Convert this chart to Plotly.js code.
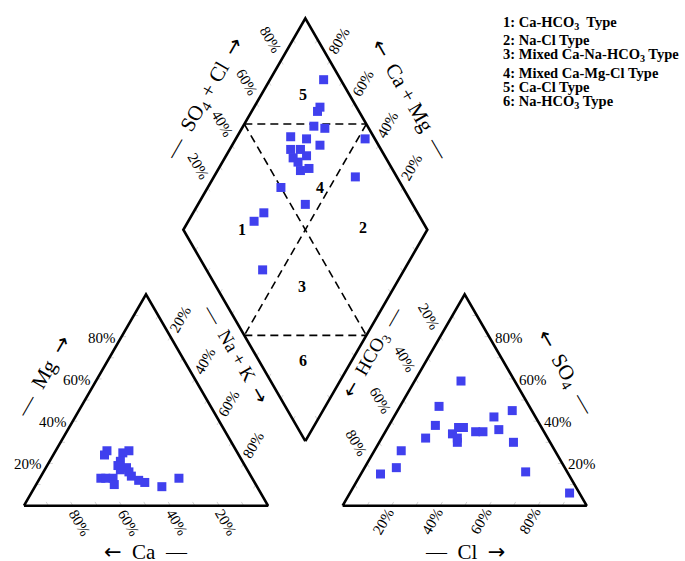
<!DOCTYPE html>
<html>
<head>
<meta charset="utf-8">
<script src="https://cdn.plot.ly/plotly-3.0.1.min.js"></script>
<style>html,body{margin:0;padding:0;background:#fff;}#chart{width:685px;height:561px;}</style>
</head>
<body>
<div id="chart"></div>
<script>
// ---------------- DATA (percent) ----------------
// Cation triangle
const cationCa  = [53,55,47,44,50,52,49,49,52,62,60,57,58,49,47,45,39,30];
const cationMg  = [26,24,25,26,21,19,18,16,17,13,13,13,10,14,12,11,9,13];
const cationNaK = [21,21,28,30,29,29,33,35,31,25,27,30,32,37,41,44,52,57];
// Anion triangle
const anionCl   = [19,16,47,41,19,31,29,37,40,46,28,31,32,18,55,11,13,8,67,90];
const anionSO4  = [59,47,45,42,38,37,37,35,35,36,34,32,30,32,30,26,18,15,16,6];
const anionHCO3 = [22,37,8,17,43,32,34,28,25,18,38,37,38,50,15,63,69,77,17,4];
// Diamond (Ca+Mg, SO4+Cl)
const diamondCaMg  = [78,73,73,71,66,78,71,47,64,75,71,67,72,69,66,63,42,70,56,71,73,58];
const diamondSO4Cl = [93,85,83,78,82,66,72,96,76,63,67,68,62,63,62,66,83,50,56,37,31,23];
// Tick values / labels
const tickValues = [20,40,60,80];
const tickLabels = ['20%','40%','60%','80%'];
const minorTicks = [10,20,30,40,50,60,70,80,90];
// Zone labels
const zoneNames = ['1','2','3','4','5','6'];
const zoneCaMg  = [76,27,38,54,83,20];
const zoneSO4Cl = [24,74,35,66,81,18];
// Legend text
const legendLines = [
  '1: Ca-HCO<sub>3</sub>  Type',
  '2: Na-Cl Type',
  '3: Mixed Ca-Na-HCO<sub>3</sub> Type',
  '4: Mixed Ca-Mg-Cl Type',
  '5: Ca-Cl Type',
  '6: Na-HCO<sub>3</sub> Type'
];

// ---------------- GEOMETRY ----------------
const H = Math.sqrt(3)/2;
const GAP = 0.306;
const BX = 1 + GAP/2, BY = GAP*H;       // diamond bottom vertex
const AX0 = 1 + GAP;                     // anion triangle origin
function cat(mg, nak){ return [nak/100 + mg/200, H*mg/100]; }
function an(cl, so4){ return [AX0 + cl/100 + so4/200, H*so4/100]; }
function dia(camg, so4cl){ return [BX + 0.5*(so4cl - camg)/100, BY + H*(camg + so4cl)/100]; }

const SERIF = 'Liberation Serif, Times New Roman, serif';
const PT = 'rgb(64,64,238)';
const traces = [];
const ann = [];

function lineTrace(pts, width, dash, color){
  traces.push({type:'scatter', mode:'lines', x:pts.map(p=>p[0]), y:pts.map(p=>p[1]),
    line:{color:color||'#000', width:width, dash:dash||'solid'}, hoverinfo:'skip', connectgaps:false});
}
// faint minor ticks
const TL = 0.018;
const tk = [];
function addTicks(f, dir){
  minorTicks.forEach(k=>{ const p=f(k); tk.push(p, [p[0]+TL*dir[0], p[1]+TL*dir[1]], [null,null]); });
}
addTicks(k=>cat(0,k), [-0.5,H]);
addTicks(k=>cat(k,0), [1,0]);
addTicks(k=>cat(k,100-k), [-0.5,-H]);
addTicks(k=>an(k,0), [0.5,H]);
addTicks(k=>an(100-k,k), [-1,0]);
addTicks(k=>an(0,k), [0.5,-H]);
addTicks(k=>dia(100,k), [0.5,-H]);
addTicks(k=>dia(k,100), [-0.5,-H]);
addTicks(k=>dia(k,0), [0.5,H]);
addTicks(k=>dia(0,k), [-0.5,H]);
lineTrace(tk, 1, 'solid', '#d4d4d4');

// outlines
lineTrace([cat(0,0), cat(0,100), cat(100,0), cat(0,0)], 2.6);
lineTrace([an(0,0), an(100,0), an(0,100), an(0,0)], 2.6);
lineTrace([dia(0,0), dia(100,0), dia(100,100), dia(0,100), dia(0,0)], 2.6);
// dashed zone lines
const DASH = '8px,5px';
lineTrace([dia(100,50), dia(50,100)], 1.6, DASH);
lineTrace([dia(50,0), dia(0,50)], 1.6, DASH);
lineTrace([dia(100,50), dia(0,50)], 1.6, DASH);
lineTrace([dia(50,100), dia(50,0)], 1.6, DASH);

// points
function ptTrace(xy){
  traces.push({type:'scatter', mode:'markers', x:xy.map(p=>p[0]), y:xy.map(p=>p[1]),
    marker:{symbol:'square', size:9, color:PT, line:{width:0}}, hoverinfo:'skip'});
}
ptTrace(cationMg.map((m,i)=>cat(m, cationNaK[i])));
ptTrace(anionSO4.map((s,i)=>an(anionCl[i], s)));
ptTrace(diamondCaMg.map((c,i)=>dia(c, diamondSO4Cl[i])));

function A(pos, text, opts){
  ann.push(Object.assign({x:pos[0], y:pos[1], xref:'x', yref:'y', text:text, showarrow:false,
    font:{family:SERIF, size:15, color:'#000'}}, opts||{}));
}
// tick labels
tickValues.forEach((v,i)=>{
  const t = tickLabels[i];
  A(cat(v, 0), t, {xanchor:'right', xshift:-4, yshift:-1});
  A(cat(0, 100-v), t, {textangle:60, xshift:7, yshift:-17});
  A(cat(100-v, v), t, {textangle:-60, xshift:10, yshift:18});
  A(an(v, 0), t, {textangle:-60, xshift:-8, yshift:-15});
  A(an(0, 100-v), t, {textangle:60, xshift:-11, yshift:20});
  A(an(100-v, v), t, {xanchor:'left', xshift:4, yshift:-1});
  A(dia(100, v), t, {textangle:60, xshift:-10, yshift:21});
  A(dia(v, 100), t, {textangle:-60, xshift:9, yshift:20});
});

// axis titles
const S = '\u00a0\u00a0';
const RA = '<span style="font-family:DejaVu Sans">→</span>';
const LA = '<span style="font-family:DejaVu Sans">←</span>';
const TF = {family:SERIF, size:21, color:'#000'};
const TF2 = {family:SERIF, size:19, color:'#000'};
A(cat(50,0), '—'+S+'Mg'+S+RA, {textangle:-60, xshift:-42, yshift:24, font:TF});
A(cat(0,50), LA+S+'Ca'+S+'—', {yshift:-46, font:TF});
A(cat(50,50), '—'+S+'Na + K'+S+RA, {textangle:60, xshift:29, yshift:47, font:TF2});
A(an(0,50), LA+S+'HCO<sub>3</sub>'+S+'—', {textangle:-60, xshift:-31, yshift:48, font:TF2});
A(an(50,0), '—'+S+'Cl'+S+RA, {yshift:-46, font:TF});
A(an(50,50), LA+S+'SO<sub>4</sub>'+S+'—', {textangle:60, xshift:40, yshift:27, font:TF});
A(dia(100,50), '—'+S+'SO<sub>4</sub> + Cl'+S+RA, {textangle:-60, xshift:-40, yshift:25, font:TF});
A(dia(50,100), LA+S+'Ca + Mg'+S+'—', {textangle:60, xshift:44, yshift:25, font:TF});

// zone numbers
zoneNames.forEach((z,i)=>{
  A(dia(zoneCaMg[i], zoneSO4Cl[i]), z, {font:{family:SERIF, size:16, color:'#000', weight:'bold'}});
});

// legend text
const legendY = [20, 38.3, 52.7, 71, 85, 99.3];
legendLines.forEach((l,i)=>{
  ann.push({xref:'paper', yref:'paper', x:501/685, y:1 - (legendY[i]-8.5)/561, xanchor:'left', yanchor:'top',
    text:l, showarrow:false, font:{family:SERIF, size:14.5, color:'#000', weight:'bold'}});
});

const layout = {
  width:685, height:561,
  margin:{l:0, r:0, t:0, b:0, pad:0},
  paper_bgcolor:'#fff', plot_bgcolor:'#fff',
  showlegend:false,
  xaxis:{range:[-24/244, 661/244], visible:false, fixedrange:true},
  yaxis:{range:[-55.3/244, 505.7/244], visible:false, fixedrange:true},
  annotations:ann
};
Plotly.newPlot('chart', traces, layout, {displayModeBar:false, staticPlot:true});
</script>
</body>
</html>
